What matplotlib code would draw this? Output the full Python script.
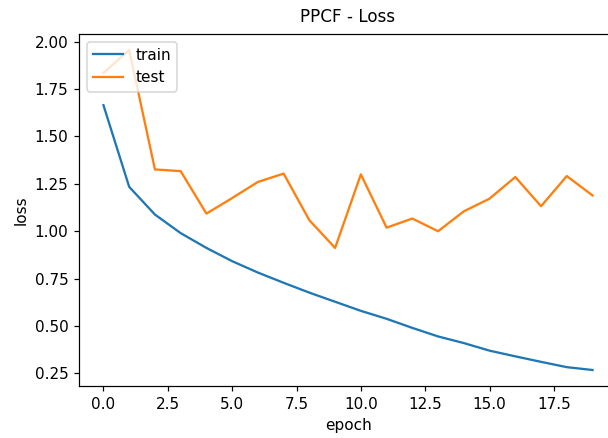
import matplotlib
matplotlib.use("Agg")
import matplotlib.pyplot as plt

epochs = list(range(20))
train_loss = [1.665, 1.234, 1.088, 0.990, 0.912, 0.842, 0.782, 0.728, 0.676, 0.628,
              0.580, 0.538, 0.490, 0.445, 0.410, 0.370, 0.340, 0.311, 0.283, 0.268]
test_loss = [1.835, 1.956, 1.326, 1.317, 1.093, 1.175, 1.260, 1.304, 1.058, 0.912,
             1.300, 1.019, 1.067, 1.000, 1.105, 1.172, 1.286, 1.132, 1.291, 1.189]

DPI = 110


def plot_results(epochs, train_loss, test_loss):
    fig = plt.figure(figsize=(608 / DPI, 438 / DPI), dpi=DPI)
    # axes run past the right edge, like the cropped original
    ax = fig.add_axes([79 / 608, 1 - 386 / 438, 538 / 608, 352 / 438])
    ax.plot(epochs, train_loss, label="train")
    ax.plot(epochs, test_loss, label="test")
    ax.set_title("PPCF - Loss", fontsize=11, pad=8)
    ax.set_xlabel("epoch")
    ax.set_ylabel("loss")
    ax.spines["right"].set_visible(False)
    ax.legend(loc="upper left")
    fig.savefig("out.png", dpi=DPI)


if __name__ == "__main__":
    plot_results(epochs, train_loss, test_loss)
